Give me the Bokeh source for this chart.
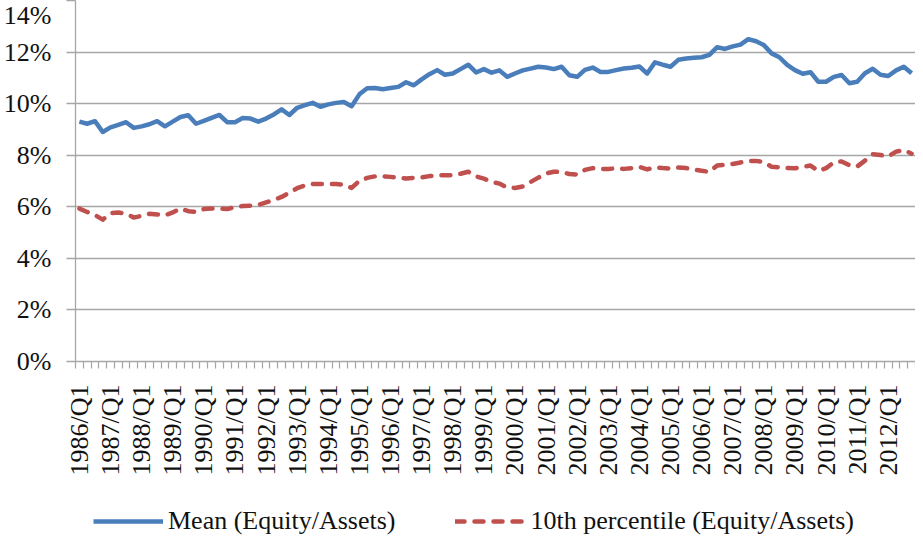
from bokeh.plotting import figure
from bokeh.models import Range1d, FixedTicker, PrintfTickFormatter, Legend, LegendItem, ColumnDataSource
from bokeh.layouts import column
from bokeh.embed import file_html
from bokeh.resources import INLINE
import math

years = list(range(1986, 2013))
quarters = [f"{y}/Q{q}" for y in years for q in (1, 2, 3, 4)]

mean_equity = [
    9.30, 9.22, 9.32, 8.90, 9.08, 9.18, 9.28, 9.06, 9.12, 9.20,
    9.32, 9.12, 9.30, 9.48, 9.55, 9.22, 9.33, 9.45, 9.56, 9.28,
    9.28, 9.44, 9.42, 9.30, 9.42, 9.58, 9.78, 9.56, 9.84, 9.94,
    10.03, 9.88, 9.97, 10.03, 10.06, 9.90, 10.36, 10.60, 10.61, 10.56,
    10.61, 10.65, 10.83, 10.71, 10.94, 11.14, 11.30, 11.12, 11.17, 11.34,
    11.51, 11.21, 11.34, 11.20, 11.29, 11.04, 11.17, 11.29, 11.36, 11.43,
    11.40, 11.34, 11.43, 11.10, 11.04, 11.31, 11.40, 11.23, 11.23, 11.30,
    11.36, 11.39, 11.44, 11.17, 11.60, 11.51, 11.43, 11.70, 11.75, 11.78,
    11.80, 11.89, 12.19, 12.12, 12.22, 12.29, 12.50, 12.42, 12.27, 11.95,
    11.80, 11.50, 11.30, 11.16, 11.22, 10.85, 10.85, 11.04, 11.11, 10.79,
    10.85, 11.18, 11.35, 11.12, 11.07, 11.29, 11.43, 11.18,
]

p10_equity = [
    5.93, 5.80, 5.68, 5.50, 5.75, 5.78, 5.73, 5.58, 5.65, 5.73,
    5.70, 5.67, 5.78, 5.93, 5.83, 5.80, 5.91, 5.93, 5.93, 5.91,
    5.99, 6.03, 6.04, 6.07, 6.17, 6.27, 6.38, 6.55, 6.72, 6.83,
    6.88, 6.88, 6.88, 6.88, 6.86, 6.73, 7.01, 7.12, 7.18, 7.18,
    7.16, 7.13, 7.10, 7.12, 7.14, 7.19, 7.22, 7.22, 7.23, 7.28,
    7.36, 7.18, 7.09, 6.97, 6.90, 6.75, 6.73, 6.79, 6.96, 7.13,
    7.29, 7.36, 7.35, 7.27, 7.25, 7.43, 7.50, 7.47, 7.47, 7.49,
    7.47, 7.50, 7.55, 7.45, 7.53, 7.50, 7.48, 7.52, 7.50, 7.44,
    7.40, 7.35, 7.60, 7.63, 7.66, 7.72, 7.77, 7.78, 7.74, 7.55,
    7.53, 7.50, 7.49, 7.55, 7.60, 7.39, 7.50, 7.72, 7.76, 7.61,
    7.56, 7.79, 8.04, 8.01, 7.95, 8.14, 8.20, 8.06,
]

y_ticks = [0, 2, 4, 6, 8, 10, 12, 14]

FONT = "Liberation Serif"
GRAY = "#a6a6a6"
BLUE = "#4a7ebb"
RED = "#c0504d"

idx = list(range(len(quarters)))
src = ColumnDataSource(dict(x=idx, mean=mean_equity, p10=p10_equity, q=quarters))

p = figure(width=915, height=485, output_backend="svg", toolbar_location=None,
           x_range=Range1d(-0.5, len(quarters) - 0.5), y_range=Range1d(0, 14),
           min_border_left=74, min_border_top=0, min_border_right=0, min_border_bottom=124)
p.outline_line_color = None
p.background_fill_color = "white"

p.line("x", "mean", source=src, line_color=BLUE, line_width=4.5, line_join="round")
p.line("x", "p10", source=src, line_color=RED, line_width=4.5, line_dash="9 10",
       line_cap="round", line_join="round")

# y axis
p.yaxis.ticker = FixedTicker(ticks=y_ticks)
p.yaxis.formatter = PrintfTickFormatter(format="%d%%")
p.yaxis.major_label_text_font = FONT
p.yaxis.major_label_text_font_size = "26px"
p.yaxis.major_label_text_color = "#111111"
p.yaxis.axis_line_color = GRAY
p.yaxis.axis_line_width = 1.3
p.yaxis.major_tick_line_color = GRAY
p.yaxis.major_tick_line_width = 1.3
p.yaxis.major_tick_out = 9
p.yaxis.major_tick_in = 0
p.yaxis.minor_tick_line_color = None
p.yaxis.major_label_standoff = 15

p.ygrid.ticker = FixedTicker(ticks=y_ticks)
p.ygrid.grid_line_color = GRAY
p.ygrid.grid_line_width = 1.3
p.xgrid.grid_line_color = None

# x axis
label_ticks = [i for i in idx if quarters[i].endswith("Q1")]
boundaries = [i - 0.5 for i in idx] + [len(idx) - 0.5]
p.xaxis.ticker = FixedTicker(ticks=label_ticks, minor_ticks=boundaries)
p.xaxis.major_label_overrides = {i: quarters[i] for i in label_ticks}
p.xaxis.major_label_orientation = math.pi / 2
p.xaxis.major_label_text_font = FONT
p.xaxis.major_label_text_font_size = "26px"
p.xaxis.major_label_text_color = "#111111"
p.xaxis.major_tick_line_color = None
p.xaxis.major_tick_out = 0
p.xaxis.major_tick_in = 0
p.xaxis.minor_tick_line_color = GRAY
p.xaxis.minor_tick_line_width = 1.2
p.xaxis.minor_tick_out = 7
p.xaxis.minor_tick_in = 0
p.xaxis.axis_line_color = GRAY
p.xaxis.axis_line_width = 1.3
p.xaxis.major_label_standoff = 16

# legend strip below the chart (series drawn outside its visible range, only keys show)
leg_fig = figure(width=915, height=51, output_backend="svg", toolbar_location=None,
                 x_range=Range1d(-0.5, len(quarters) - 0.5), y_range=Range1d(-20, -10),
                 x_axis_location=None, y_axis_location=None,
                 min_border_left=0, min_border_right=0, min_border_top=0, min_border_bottom=0)
leg_fig.outline_line_color = None
leg_fig.grid.grid_line_color = None
lr1 = leg_fig.line("x", "mean", source=src, line_color=BLUE, line_width=4.5)
lr2 = leg_fig.line("x", "p10", source=src, line_color=RED, line_width=4.5, line_dash="9 10",
                   line_cap="round")

legend = Legend(items=[
    LegendItem(label="Mean (Equity/Assets)", renderers=[lr1]),
    LegendItem(label="10th percentile (Equity/Assets)", renderers=[lr2]),
], orientation="horizontal", location=(18, 0))
legend.label_text_font = FONT
legend.label_text_font_size = "26px"
legend.label_text_color = "#111111"
legend.glyph_width = 70
legend.glyph_height = 20
legend.label_standoff = 5
legend.spacing = 60
legend.padding = 2
legend.margin = 0
legend.border_line_color = None
legend.background_fill_alpha = 0
leg_fig.add_layout(legend)

layout = column(p, leg_fig, spacing=0)

open("out.html", "w").write(file_html(layout, INLINE))
